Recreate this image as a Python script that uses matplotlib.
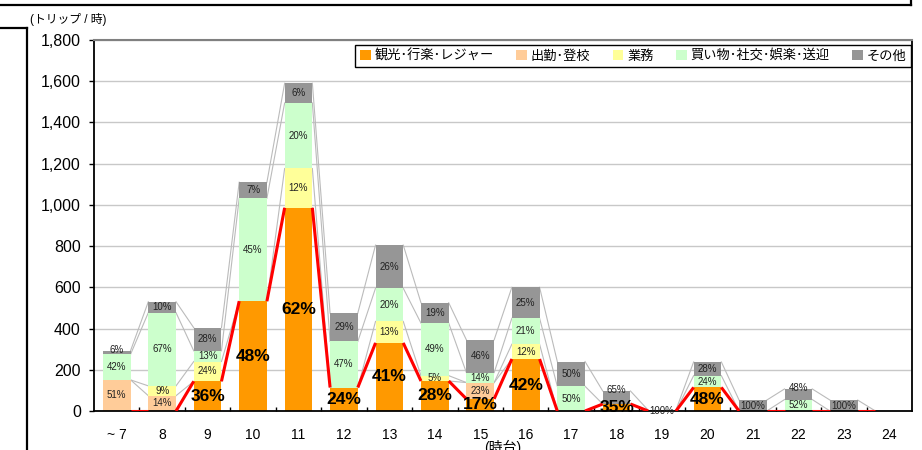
import matplotlib
matplotlib.use('Agg')
import matplotlib.pyplot as plt
from matplotlib.lines import Line2D
import numpy as np

plt.rcParams['font.family'] = ['Liberation Sans', 'Noto Sans CJK JP', 'DejaVu Sans']

# ─── Data (trips per hour, share of each purpose in %) ───────────────────────
hours = ['~ 7', '8', '9', '10', '11', '12', '13', '14', '15', '16',
         '17', '18', '19', '20', '21', '22', '23', '24']
totals = [296, 530, 400, 1110, 1590, 475, 805, 520, 345, 600,
          240, 97, 4, 238, 53, 107, 53, 0]

pct_leisure  = [0, 0, 36, 48, 62, 24, 41, 28, 17, 42, 0, 35, 0, 48, 0, 0, 0, 0]
pct_commute  = [51, 14, 0, 0, 0, 0, 0, 0, 23, 0, 0, 0, 0, 0, 0, 0, 0, 0]
pct_business = [0, 9, 24, 0, 12, 0, 13, 5, 0, 12, 0, 0, 0, 0, 0, 0, 0, 0]
pct_shopping = [42, 67, 13, 45, 20, 47, 20, 49, 14, 21, 50, 0, 0, 24, 0, 52, 0, 0]
pct_other    = [6, 10, 28, 7, 6, 29, 26, 19, 46, 25, 50, 65, 100, 28, 100, 48, 100, 0]

labels = ['観光･行楽･レジャー', '出勤･登校', '業務', '買い物･社交･娯楽･送迎', 'その他']
colors = ['#FF9900', '#FFCC99', '#FFFF99', '#CCFFCC', '#969696']

# ─── Figure ──────────────────────────────────────────────────────────────────
fig = plt.figure(figsize=(9.22, 4.5), dpi=100)
fig.patch.set_facecolor('white')
ax = fig.add_axes([94 / 922, 1 - 411 / 450, (912 - 94) / 922, (411 - 40) / 450])

x = np.arange(len(hours))
tot = np.array(totals, dtype=float)
shares = [pct_leisure, pct_commute, pct_business, pct_shopping, pct_other]
W = 0.61

bottom = np.zeros(len(hours))
levels = []
for k, (pct, col) in enumerate(zip(shares, colors)):
    vals = tot * np.array(pct) / 100.0
    ax.bar(x, vals, W, bottom=bottom, color=col, edgecolor='none', zorder=2, label=labels[k])
    for i, p in enumerate(pct):
        if p <= 0:
            continue
        yc = bottom[i] + vals[i] / 2
        if k == 0:
            ax.text(x[i], yc, f'{p}%', ha='center', va='center', fontsize=12.5,
                    fontweight='bold', color='black', zorder=5)
        else:
            # thin top segment sitting on others: label just above the bar
            if k == 4 and bottom[i] > 0 and (vals[i] < 30 or tot[i] < 120):
                yc = bottom[i] + vals[i] + 5
            ax.text(x[i], yc, f'{p}%', ha='center', va='center', fontsize=7,
                    color='#222222', zorder=5)
    bottom = bottom + vals
    levels.append(bottom.copy())

# series lines between bars
for k, lev in enumerate(levels):
    for i in range(len(hours) - 1):
        xs = [x[i] + W / 2, x[i + 1] - W / 2]
        ys = [lev[i], lev[i + 1]]
        if k == 0:
            ax.plot(xs, ys, color='#FF0000', lw=2.2, zorder=3, solid_capstyle='butt')
        else:
            ax.plot(xs, ys, color='#BBBBBB', lw=0.8, zorder=1)

# ─── Axes styling ────────────────────────────────────────────────────────────
ax.set_xlim(-0.5, len(hours) - 0.5)
ax.set_ylim(0, 1800)
ax.set_yticks(np.arange(0, 1801, 200))
ax.set_yticklabels([f'{v:,}' for v in range(0, 1801, 200)], fontsize=11.5)
ax.set_xticks(x)
ax.set_xticklabels(hours, fontsize=10)
ax.set_xticks(np.arange(0.5, len(hours) - 1, 1), minor=True)
ax.tick_params(axis='x', which='major', length=0, pad=12)
ax.tick_params(axis='x', which='minor', direction='in', length=3, width=1)
ax.tick_params(axis='y', direction='out', length=3.5, width=1, pad=6)
ax.yaxis.grid(True, color='#C8C8C8', lw=1, zorder=0)
ax.set_axisbelow(True)
for side in ['left', 'bottom', 'right']:
    ax.spines[side].set_color('black')
    ax.spines[side].set_linewidth(1.3)
ax.spines['top'].set_color('#808080')
ax.spines['top'].set_linewidth(1.5)

leg = ax.legend(loc='upper right', bbox_to_anchor=(0.999, 0.987), borderaxespad=0,
                ncol=5, fontsize=9.5, frameon=True, fancybox=False, framealpha=1,
                handlelength=0.8, handleheight=0.8, handletextpad=0.3,
                columnspacing=1.7, borderpad=0.35)
leg.get_frame().set_edgecolor('black')
leg.get_frame().set_linewidth(1)

fig.text(30 / 922, 1 - 20 / 450, '(トリップ / 時)', fontsize=8.5, va='center', ha='left')
fig.text(503 / 922, 1 - 440 / 450, '(時台)', fontsize=10, va='top', ha='center')

# outer frame fragments
def fline(xs, ys):
    fig.add_artist(Line2D([v / 922 for v in xs], [1 - v / 450 for v in ys],
                          color='black', lw=1.6, transform=fig.transFigure))

fline([0, 911], [5, 5])
fline([911, 911], [0, 5])
fline([0, 27], [28, 28])
fline([27, 27], [28, 450])

fig.savefig('out.png', dpi=100, facecolor='white')
